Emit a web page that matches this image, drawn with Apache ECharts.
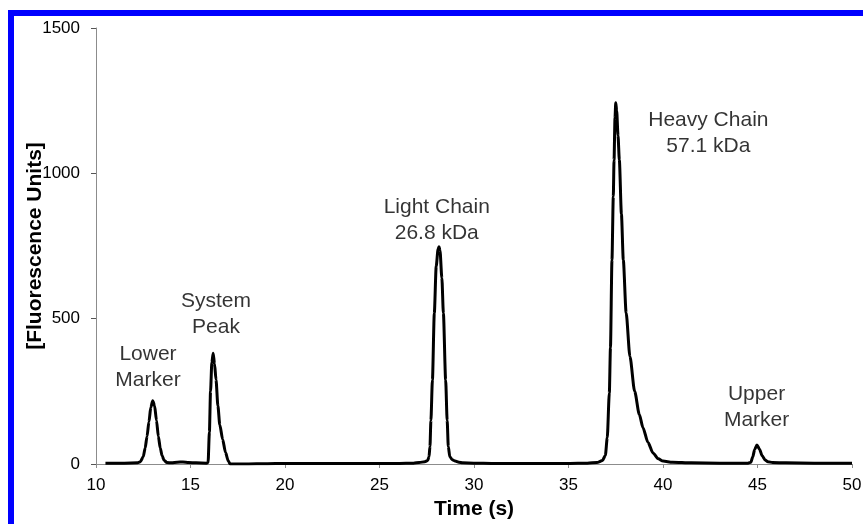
<!DOCTYPE html>
<html>
<head>
<meta charset="utf-8">
<script src="https://cdn.jsdelivr.net/npm/echarts@6/dist/echarts.min.js"></script>
<style>
  html, body { margin: 0; padding: 0; background: #fff; }
  #wrap { position: relative; width: 863px; height: 524px; overflow: hidden; background: #fff; }
  #chart { position: absolute; left: 0; top: 0; width: 863px; height: 524px; }
  #frame { position: absolute; left: 8px; top: 10px; width: 900px; height: 600px;
           border-left: 6px solid #0000ff; border-top: 6px solid #0000ff; pointer-events: none; }
</style>
</head>
<body>
<div id="wrap">
  <div id="chart"></div>
  <div id="frame"></div>
</div>
<script>
// Electropherogram trace: migration time (s) and fluorescence signal
const timeSec = [
  10.5, 11.5, 12.2, 12.35, 12.5, 12.6, 12.7, 12.8, 12.9, 13.0, 13.1, 13.2, 13.3, 13.4, 13.5, 13.6, 13.75,
  14.0, 14.3, 14.6, 14.9, 15.3, 15.85,
  15.93, 16.0, 16.06, 16.13, 16.2, 16.27, 16.35, 16.45, 16.55, 16.7, 16.85, 17.0, 17.1,
  17.5, 18, 19, 20, 22, 24, 26, 26.8, 27.1, 27.4, 27.55,
  27.62, 27.67, 27.72, 27.8, 27.9, 28.0, 28.1, 28.15, 28.2, 28.3, 28.38, 28.5, 28.58, 28.64, 28.72, 28.85,
  29.0, 29.2, 29.4, 30, 31, 33, 35, 36, 36.5, 36.8, 36.95,
  37.05, 37.16, 37.22, 37.3, 37.37, 37.41, 37.46, 37.5, 37.55, 37.62, 37.69, 37.8, 37.9, 38.05, 38.25,
  38.5, 38.75, 38.94, 39.2, 39.47, 39.75, 40.0, 40.5, 41.5, 43, 44.5, 44.65,
  44.75, 44.85, 44.97, 45.1, 45.25, 45.4, 45.55, 45.8, 46.5, 48, 50
];
const fluorescence = [
  3, 3, 4, 8, 25, 55, 95, 145, 195, 218, 200, 150, 95, 55, 28, 13, 5,
  4, 6, 7, 5, 4, 3,
  5, 110, 250, 350, 381, 345, 290, 200, 135, 85, 40, 10, 0,
  0, 0, 1, 2, 2, 2, 2, 3, 5, 8, 12,
  25, 60, 150, 289, 519, 680, 740, 747, 735, 640, 519, 289, 150, 60, 25, 15,
  10, 6, 4, 3, 2, 2, 2, 3, 5, 12, 30,
  90, 244, 400, 702, 920, 1046, 1190, 1243, 1215, 1130, 1046, 860, 702, 520, 370,
  250, 170, 125, 75, 38, 18, 10, 6, 4, 3, 3, 6,
  25, 50, 65, 52, 28, 14, 8, 5, 4, 3, 3
];

// Peak annotations (text and anchor in data units)
const peakNames = ['Lower\nMarker', 'System\nPeak', 'Light Chain\n26.8 kDa', 'Heavy Chain\n57.1 kDa', 'Upper\nMarker'];
const peakLabelTime = [12.75, 16.35, 28.03, 42.4, 44.95];
const peakLabelSignal = [332, 514, 839, 1139, 194];

// Axis ticks
const xTicks = { min: 10, max: 50, step: 5 };
const yTicks = { min: 0, max: 1500, step: 500 };

const font = '"Liberation Sans", Arial, sans-serif';

const chart = echarts.init(document.getElementById('chart'), null, { renderer: 'canvas' });
chart.setOption({
  animation: false,
  backgroundColor: 'transparent',
  grid: { left: 96, right: 11, top: 28, bottom: 60, containLabel: false, outerBoundsMode: 'none' },
  xAxis: {
    type: 'value',
    min: xTicks.min, max: xTicks.max, interval: xTicks.step,
    name: 'Time (s)',
    nameLocation: 'middle',
    nameGap: 35,
    nameMoveOverlap: false,
    nameTextStyle: { fontFamily: font, fontSize: 21, fontWeight: 'bold', color: '#000' },
    axisLine: { onZero: false, lineStyle: { color: '#8c8c8c', width: 1 } },
    axisTick: { show: true, length: 4, lineStyle: { color: '#8c8c8c' } },
    axisLabel: { fontFamily: font, fontSize: 17, color: '#000', margin: 13, formatter: v => String(v) },
    splitLine: { show: false }
  },
  yAxis: {
    type: 'value',
    min: yTicks.min, max: yTicks.max, interval: yTicks.step,
    name: '[Fluorescence Units]',
    nameLocation: 'middle',
    nameGap: 50,
    nameMoveOverlap: false,
    nameTextStyle: { fontFamily: font, fontSize: 21, fontWeight: 'bold', color: '#000' },
    axisLine: { show: true, lineStyle: { color: '#8c8c8c', width: 1 } },
    axisTick: { show: true, length: 5, lineStyle: { color: '#555' } },
    axisLabel: { fontFamily: font, fontSize: 17, color: '#000', margin: 16, formatter: v => String(v) },
    splitLine: { show: false }
  },
  series: [
    {
      type: 'line',
      data: timeSec.map((t, i) => [t, fluorescence[i]]),
      showSymbol: false,
      smooth: 0.25,
      smoothMonotone: 'x',
      lineStyle: { color: '#000', width: 3 },
      z: 3
    },
    {
      type: 'scatter',
      data: peakNames.map((n, i) => ({ name: n, value: [peakLabelTime[i], peakLabelSignal[i]] })),
      symbolSize: 1,
      itemStyle: { color: 'transparent' },
      label: {
        show: true,
        position: 'inside',
        formatter: p => p.name,
        fontFamily: font,
        fontSize: 21,
        lineHeight: 26,
        color: '#000',
        align: 'center',
        verticalAlign: 'middle'
      },
      silent: true,
      z: 4
    }
  ]
});
</script>
</body>
</html>
